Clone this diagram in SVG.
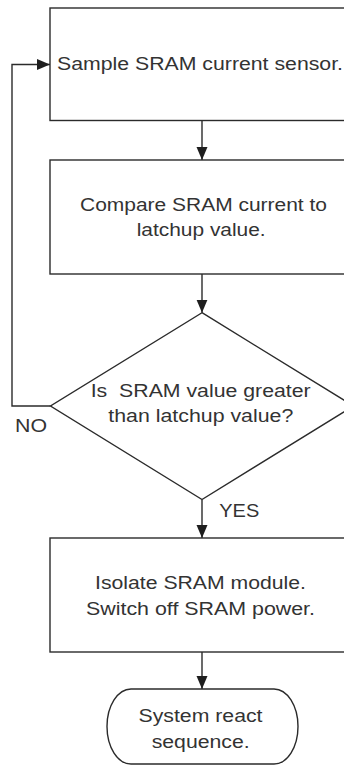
<svg xmlns="http://www.w3.org/2000/svg" width="344" height="765" viewBox="0 0 344 765">
  <style>
    .shape { fill: #ffffff; stroke: #2b2b2b; stroke-width: 1.4; }
    .edge { fill: none; stroke: #2b2b2b; stroke-width: 1.4; }
    .label { font-family: "Liberation Sans", Arial, sans-serif; font-size: 17.5px; fill: #333333; }
  </style>
  <defs>
    <marker id="arrow" markerUnits="userSpaceOnUse" markerWidth="14" markerHeight="12" refX="13" refY="5.5" orient="auto">
      <path d="M0,0 L13,5.5 L0,11 Z" fill="#1e1e1e"/>
    </marker>
  </defs>

  <rect width="344" height="765" fill="#ffffff"/>

  <!-- connectors -->
  <g id="connectors">
    <line class="edge" x1="202" y1="120.5" x2="202" y2="160" marker-end="url(#arrow)"/>
    <line class="edge" x1="202" y1="274" x2="202" y2="312.7" marker-end="url(#arrow)"/>
    <polyline class="edge" points="50.5,406 12,406 12,64.5 50,64.5" marker-end="url(#arrow)"/>
    <line class="edge" x1="202" y1="499.5" x2="202" y2="538" marker-end="url(#arrow)"/>
    <line class="edge" x1="202" y1="652" x2="202" y2="689" marker-end="url(#arrow)"/>
    <text class="label" x="15" y="431.7" textLength="32" lengthAdjust="spacingAndGlyphs">NO</text>
    <text class="label" x="219.3" y="517" textLength="40" lengthAdjust="spacingAndGlyphs">YES</text>
  </g>

  <!-- process: sample sensor -->
  <g id="sample">
    <rect class="shape" x="50" y="8" width="304" height="112.5"/>
    <text class="label" x="57" y="70" textLength="286" lengthAdjust="spacingAndGlyphs">Sample SRAM current sensor.</text>
  </g>

  <!-- process: compare -->
  <g id="compare">
    <rect class="shape" x="50" y="160" width="304" height="114"/>
    <text class="label" x="80" y="211.3" textLength="247" lengthAdjust="spacingAndGlyphs">Compare SRAM current to</text>
    <text class="label" x="136.7" y="236.3" textLength="129" lengthAdjust="spacingAndGlyphs">latchup value.</text>
  </g>

  <!-- decision -->
  <g id="decision">
    <polygon class="shape" points="202,312.7 353.5,406 202,499.5 50.5,406"/>
    <text class="label" x="90.7" y="396.7" textLength="220" lengthAdjust="spacingAndGlyphs" xml:space="preserve">Is  SRAM value greater</text>
    <text class="label" x="108.3" y="422.3" textLength="185" lengthAdjust="spacingAndGlyphs">than latchup value?</text>
  </g>

  <!-- process: isolate -->
  <g id="isolate">
    <rect class="shape" x="50" y="538" width="304" height="114"/>
    <text class="label" x="95" y="589.3" textLength="211" lengthAdjust="spacingAndGlyphs">Isolate SRAM module.</text>
    <text class="label" x="86" y="615" textLength="229" lengthAdjust="spacingAndGlyphs">Switch off SRAM power.</text>
  </g>

  <!-- terminator -->
  <g id="react">
    <rect class="shape" x="107" y="689" width="191" height="75" rx="24" ry="37.5"/>
    <text class="label" x="138.5" y="721.7" textLength="124" lengthAdjust="spacingAndGlyphs">System react</text>
    <text class="label" x="151.7" y="748.3" textLength="98" lengthAdjust="spacingAndGlyphs">sequence.</text>
  </g>
</svg>
